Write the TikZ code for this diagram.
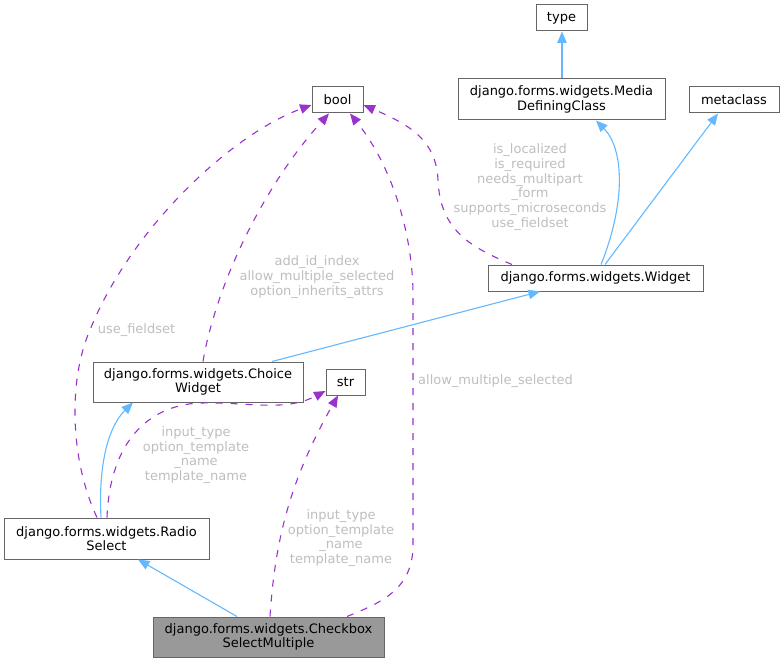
\documentclass[tikz,border=0pt]{standalone}
\usepackage{fontspec}
\setmainfont{DejaVu Sans}
\usetikzlibrary{arrows.meta}
\definecolor{boxline}{HTML}{666666}
\definecolor{inhblue}{HTML}{63B8FF}
\definecolor{usepurple}{HTML}{9A32CD}
\definecolor{lblgray}{HTML}{BEBEBE}
\definecolor{curfill}{HTML}{999999}
\tikzset{
  cls/.style={draw=boxline, line width=1pt, fill=white, inner sep=0pt, align=center,
    font=\fontsize{13}{14.67}\selectfont, text=black},
  inh/.style={draw=inhblue, line width=1.1pt, -{Triangle[length=11.5pt,width=9.5pt]}, inhblue},
  usedby/.style={draw=usepurple, line width=1.1pt, dash pattern=on 7pt off 8pt,
    -{Triangle[length=11.5pt,width=9.5pt]}, usepurple},
  lbl/.style={inner sep=0pt, align=center, text=lblgray, font=\fontsize{13}{14.67}\selectfont}
}
\begin{document}
\begin{tikzpicture}[x=1pt,y=-1pt]
\useasboundingbox (0,0) rectangle (784,663);
% nodes
\node[cls, minimum width=51pt, minimum height=26pt] (type) at (561.5,18) {type};
\node[cls, minimum width=207pt, minimum height=41pt] (media) at (561.5,99.5) {django.forms.widgets.Media\\DefiningClass};
\node[cls, minimum width=90pt, minimum height=26pt] (meta) at (734,100) {metaclass};
\node[cls, minimum width=51pt, minimum height=26pt] (bool) at (337.5,100) {bool};
\node[cls, minimum width=215pt, minimum height=26pt] (widget) at (595.5,278) {django.forms.widgets.Widget};
\node[cls, minimum width=210pt, minimum height=40pt] (choice) at (198,382) {django.forms.widgets.Choice\\Widget};
\node[cls, minimum width=39pt, minimum height=26pt] (str) at (345.5,382) {str};
\node[cls, minimum width=205pt, minimum height=41pt] (radio) at (106.5,538.5) {django.forms.widgets.Radio\\Select};
\node[cls, fill=curfill, minimum width=231pt, minimum height=40pt] (check) at (268.5,637) {django.forms.widgets.Checkbox\\SelectMultiple};

% inheritance edges
\draw[inh] ([xshift=0.5pt]media.north) -- ([xshift=0.5pt]type.south);
\draw[inh] ([xshift=5.5pt]widget.north) .. controls (625,205) and (625,150) .. ([xshift=34.5pt]media.south);
\draw[inh] ([xshift=9.5pt]widget.north) -- ([xshift=-16pt]meta.south);
\draw[inh] ([xshift=74pt]choice.north) -- ([xshift=-55.5pt]widget.south);
\draw[inh] ([xshift=-5.5pt]radio.north) .. controls (98,460) and (110,425) .. ([xshift=-65pt]choice.south);
\draw[inh] ([xshift=-31.5pt]check.north) -- ([xshift=31.5pt]radio.south);

% usage edges
\draw[usedby] ([xshift=78.5pt]check.north) .. controls (380,603) and (413,590) .. (413,545)
  -- (413,295) .. controls (413,240) and (395,170) .. ([xshift=12.5pt]bool.south);
\draw[usedby] ([xshift=-83.5pt]widget.north) .. controls (470,247) and (440,230) .. (438,180)
  .. controls (436,140) and (410,125) .. ([yshift=-5pt]bool.east);
\draw[usedby] ([xshift=5pt]choice.north) .. controls (215,290) and (260,190) .. ([xshift=-8.5pt]bool.south);
\draw[usedby] ([xshift=-9.5pt]radio.north) .. controls (70,460) and (68,380) .. (90,330)
  .. controls (130,230) and (230,135) .. ([yshift=-5pt]bool.west);
\draw[usedby] ([xshift=0.5pt]radio.north) .. controls (110,440) and (150,405) .. (200,403)
  .. controls (250,402) and (285,412) .. ([yshift=-9pt]str.west);
\draw[usedby] ([xshift=1.5pt]check.north) .. controls (275,540) and (290,480) .. ([xshift=-7.5pt]str.south);

% labels
\node[lbl, anchor=west] (l1) at (418,381) {allow\_multiple\_selected};
\node[lbl] (l2) at (530,187) {is\_localized\\is\_required\\needs\_multipart\\\_form\\supports\_microseconds\\use\_fieldset};
\node[lbl] (l3) at (317,277) {add\_id\_index\\allow\_multiple\_selected\\option\_inherits\_attrs};
\node[lbl] (l4) at (136.5,330) {use\_fieldset};
\node[lbl] (l5) at (196,455) {input\_type\\option\_template\\\_name\\template\_name};
\node[lbl] (l6) at (341,538) {input\_type\\option\_template\\\_name\\template\_name};
\end{tikzpicture}
\end{document}
